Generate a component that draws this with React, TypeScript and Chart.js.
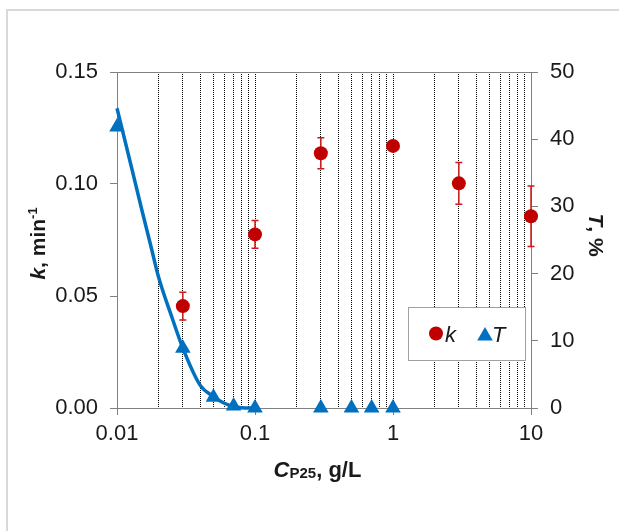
import React, { useEffect, useRef } from 'react';
import { Chart, registerables } from 'chart.js';

Chart.register(...registerables);

// ---- data ----
const kConc = [0.03, 0.1, 0.3, 1, 3, 10];
const kValues = [0.0455, 0.0775, 0.1137, 0.117, 0.1003, 0.0856];
const kErrors = [0.0062, 0.0062, 0.0069, 0.002, 0.0093, 0.0135];

const tConc = [0.01, 0.03, 0.05, 0.07, 0.1, 0.3, 0.5, 0.7, 1];
const tValues = [41.8, 8.9, 1.6, 0.3, 0, 0, 0, 0, 0];

const fitConc = [0.01, 0.0125, 0.015, 0.0175, 0.02, 0.025, 0.03, 0.04, 0.05, 0.06, 0.07, 0.08, 0.1];
const fitValues = [44.6, 36.5, 29.8, 24.3, 19.5, 13.5, 8.9, 3.4, 1.7, 0.7, 0.2, 0.05, 0];

const xDecades = [0.01, 0.1, 1];
const xMultipliers = [1, 2, 3, 4, 5, 6, 7, 8, 9];
const xTickLabels = ['0.01', '0.1', '1', '10'];
const kTicks = [0, 0.05, 0.1, 0.15];
const tTicks = [0, 10, 20, 30, 40, 50];

const RED = '#c00000';
const BLUE = '#0070c0';
const AXIS = '#808080';
const TEXT = '#1a1a1a';
const FAMILY = '"Liberation Sans", Arial, Helvetica, sans-serif';

const xGridValues: number[] = [];
xDecades.forEach((d) => xMultipliers.forEach((m) => xGridValues.push(+(d * m).toPrecision(6))));
xGridValues.push(10);

const isPow10 = (v: number) => Math.abs(Math.log10(v) - Math.round(Math.log10(v))) < 1e-9;

type Run = { text: string; font: string; dy: number };
function drawRuns(ctx: CanvasRenderingContext2D, runs: Run[], cx: number, baseline: number) {
  let total = 0;
  const widths = runs.map((r) => {
    ctx.font = r.font;
    const w = ctx.measureText(r.text).width;
    total += w;
    return w;
  });
  let x = cx - total / 2;
  runs.forEach((r, i) => {
    ctx.font = r.font;
    ctx.fillText(r.text, x, baseline + r.dy);
    x += widths[i];
  });
}

const decorPlugin = {
  id: 'decor',
  beforeDraw(chart: any) {
    const { ctx, width, height } = chart;
    ctx.save();
    ctx.fillStyle = '#ffffff';
    ctx.fillRect(0, 0, width, height);
    ctx.strokeStyle = '#d9d9d9';
    ctx.lineWidth = 2;
    ctx.beginPath();
    ctx.moveTo(7, height);
    ctx.lineTo(7, 10);
    ctx.lineTo(width, 10);
    ctx.stroke();
    ctx.restore();
  },
  beforeDatasetsDraw(chart: any) {
    const { ctx, chartArea, scales } = chart;
    ctx.save();
    // top frame line of plot area
    ctx.strokeStyle = AXIS;
    ctx.lineWidth = 1;
    ctx.beginPath();
    ctx.moveTo(chartArea.left, Math.round(chartArea.top) + 0.5);
    ctx.lineTo(chartArea.right, Math.round(chartArea.top) + 0.5);
    ctx.stroke();
    // error bars
    ctx.strokeStyle = '#cc1a1a';
    ctx.lineWidth = 1.5;
    kConc.forEach((c, i) => {
      const x = scales.x.getPixelForValue(c);
      const y1 = scales.y.getPixelForValue(kValues[i] + kErrors[i]);
      const y2 = scales.y.getPixelForValue(kValues[i] - kErrors[i]);
      ctx.beginPath();
      ctx.moveTo(x, y1);
      ctx.lineTo(x, y2);
      ctx.moveTo(x - 3.5, y1);
      ctx.lineTo(x + 3.5, y1);
      ctx.moveTo(x - 3.5, y2);
      ctx.lineTo(x + 3.5, y2);
      ctx.stroke();
    });
    ctx.restore();
  },
  afterDatasetsDraw(chart: any) {
    const { ctx } = chart;
    ctx.save();
    // legend box
    ctx.fillStyle = '#ffffff';
    ctx.fillRect(408.5, 307.5, 117, 53);
    ctx.strokeStyle = '#a0a0a0';
    ctx.lineWidth = 1;
    ctx.strokeRect(408.5, 307.5, 117, 53);
    // circle marker
    ctx.fillStyle = RED;
    ctx.beginPath();
    ctx.arc(436, 333.5, 7, 0, Math.PI * 2);
    ctx.fill();
    // triangle marker
    const tx = 485, ty = 336, r = 9;
    ctx.fillStyle = BLUE;
    ctx.beginPath();
    for (let k = 0; k < 3; k++) {
      const a = (k * 2 * Math.PI) / 3;
      const px = tx + Math.sin(a) * r;
      const py = ty - Math.cos(a) * r;
      if (k === 0) ctx.moveTo(px, py);
      else ctx.lineTo(px, py);
    }
    ctx.closePath();
    ctx.fill();
    ctx.fillStyle = TEXT;
    ctx.textBaseline = 'alphabetic';
    ctx.textAlign = 'left';
    ctx.font = `italic 22px ${FAMILY}`;
    ctx.fillText('k', 445, 341.5);
    ctx.fillText('T', 492, 341.5);
    ctx.restore();
  },
  afterDraw(chart: any) {
    const { ctx } = chart;
    ctx.save();
    ctx.fillStyle = TEXT;
    ctx.textBaseline = 'alphabetic';
    ctx.textAlign = 'left';
    const big = 21;
    // left title
    ctx.save();
    ctx.translate(45, 243.5);
    ctx.rotate(-Math.PI / 2);
    drawRuns(ctx, [
      { text: 'k', font: `bold italic ${big}px ${FAMILY}`, dy: 0 },
      { text: ', min', font: `bold ${big}px ${FAMILY}`, dy: 0 },
      { text: '-1', font: `bold 13px ${FAMILY}`, dy: -8 },
    ], 0, 0);
    ctx.restore();
    // right title
    ctx.save();
    ctx.translate(589, 235);
    ctx.rotate(Math.PI / 2);
    drawRuns(ctx, [
      { text: 'T', font: `bold italic ${big}px ${FAMILY}`, dy: 0 },
      { text: ', %', font: `bold ${big}px ${FAMILY}`, dy: 0 },
    ], 0, 0);
    ctx.restore();
    // x title
    drawRuns(ctx, [
      { text: 'C', font: `bold italic 22px ${FAMILY}`, dy: 0 },
      { text: 'P25', font: `bold 15px ${FAMILY}`, dy: 1 },
      { text: ', g/L', font: `bold 22px ${FAMILY}`, dy: 0 },
    ], 317.5, 477);
    ctx.restore();
  },
};

export default function App() {
  const ref = useRef<HTMLCanvasElement>(null);
  useEffect(() => {
    const canvas = ref.current;
    if (!canvas) return;
    const tickFont = { family: FAMILY, size: 22 };
    const chart = new Chart(canvas, {
      type: 'scatter',
      data: {
        datasets: [
          {
            label: 'fit',
            data: fitConc.map((x, i) => ({ x, y: fitValues[i] })),
            yAxisID: 'y1',
            showLine: true,
            borderColor: BLUE,
            borderWidth: 3.5,
            pointRadius: 0,
            cubicInterpolationMode: 'monotone',
            clip: false,
            order: 3,
          } as any,
          {
            label: 'T',
            data: tConc.map((x, i) => ({ x, y: tValues[i] })),
            yAxisID: 'y1',
            pointStyle: 'triangle',
            pointRadius: 9,
            backgroundColor: BLUE,
            borderColor: BLUE,
            borderWidth: 0,
            clip: false,
            order: 2,
          } as any,
          {
            label: 'k',
            data: kConc.map((x, i) => ({ x, y: kValues[i] })),
            yAxisID: 'y',
            pointStyle: 'circle',
            pointRadius: 7,
            backgroundColor: RED,
            borderColor: RED,
            borderWidth: 0,
            clip: false,
            order: 1,
          } as any,
        ],
      },
      options: {
        animation: false,
        responsive: true,
        maintainAspectRatio: false,
        layout: { padding: { top: 72, left: 0, right: 0, bottom: 0 } },
        plugins: { legend: { display: false }, tooltip: { enabled: false } },
        events: [],
        scales: {
          x: {
            type: 'logarithmic',
            position: 'bottom',
            min: 0.01,
            max: 10,
            afterBuildTicks: (s: any) => {
              s.ticks = xGridValues.map((v) => ({ value: v, major: false }));
            },
            afterFit: (s: any) => {
              s.height = 123;
            },
            grid: {
              display: true,
              drawOnChartArea: true,
              drawTicks: true,
              tickLength: 7,
              lineWidth: 1,
              color: (c: any) => {
                const v = c.tick ? c.tick.value : 0;
                if (Math.abs(v - 0.01) < 1e-9 || Math.abs(v - 10) < 1e-9) return 'rgba(0,0,0,0)';
                return '#000000';
              },
              tickColor: AXIS,
              tickWidth: (c: any) => (c.tick && isPow10(c.tick.value) ? 1 : 0),
              tickBorderDash: [],
            } as any,
            border: { display: true, color: AXIS, width: 1, dash: [1, 1] } as any,
            ticks: {
              autoSkip: false,
              maxRotation: 0,
              minRotation: 0,
              padding: 6,
              font: tickFont,
              color: TEXT,
              callback: (v: any) => {
                const n = Number(v);
                if (!isPow10(n)) return '';
                return xTickLabels[Math.round(Math.log10(n)) + 2];
              },
            },
          },
          y: {
            type: 'linear',
            position: 'left',
            min: 0,
            max: 0.15,
            afterBuildTicks: (s: any) => {
              s.ticks = kTicks.map((v) => ({ value: v }));
            },
            afterFit: (s: any) => {
              s.width = 117;
            },
            grid: { drawOnChartArea: false, drawTicks: true, tickLength: 7, tickColor: AXIS },
            border: { display: true, color: AXIS, width: 1 },
            ticks: {
              padding: 12,
              font: tickFont,
              color: TEXT,
              callback: (v: any) => Number(v).toFixed(2),
            },
          },
          y1: {
            type: 'linear',
            position: 'right',
            min: 0,
            max: 50,
            afterBuildTicks: (s: any) => {
              s.ticks = tTicks.map((v) => ({ value: v }));
            },
            afterFit: (s: any) => {
              s.width = 88;
            },
            grid: { drawOnChartArea: false, drawTicks: true, tickLength: 7, tickColor: AXIS },
            border: { display: true, color: AXIS, width: 1 },
            ticks: {
              padding: 12,
              font: tickFont,
              color: TEXT,
              callback: (v: any) => String(Number(v)),
            },
          },
        },
      } as any,
      plugins: [decorPlugin],
    });
    return () => chart.destroy();
  }, []);
  return (
    <div style={{ position: 'fixed', left: 0, top: 0, width: 619, height: 531, background: '#ffffff' }}>
      <canvas ref={ref} />
    </div>
  );
}
